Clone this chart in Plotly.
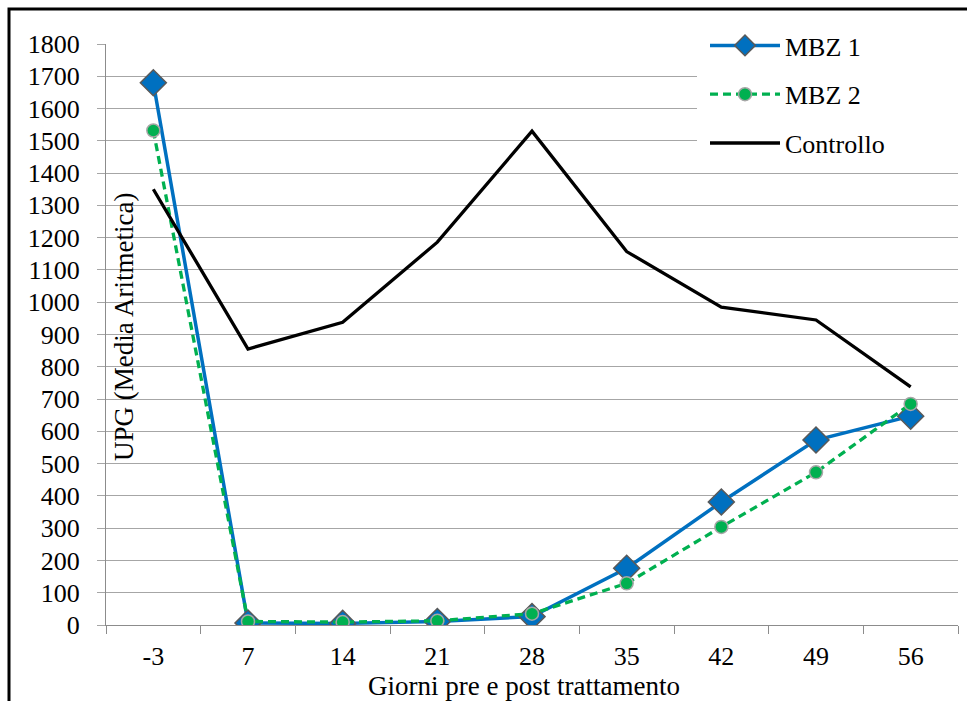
import plotly.graph_objects as go

# Days before/after treatment and arithmetic-mean UPG per group
giorni = ["-3", "7", "14", "21", "28", "35", "42", "49", "56"]
mbz1 = [1680, 6, 5, 11, 26, 176, 381, 573, 647]
mbz2 = [1532, 11, 9, 13, 35, 129, 304, 473, 685]
controllo = [1350, 855, 938, 1186, 1530, 1157, 985, 945, 738]

W, H = 967, 701
L, R, T, B = 106, 9, 44, 76
PW, PH = W - L - R, H - T - B


def px_x(p):
    return (p - L) / PW


def px_y(p):
    return (H - B - p) / PH


FONT = "Liberation Serif"
GRID = "#a6a6a6"
TICK_SIZE = 26

fig = go.Figure()
fig.add_trace(go.Scatter(
    x=giorni, y=mbz1, name="MBZ 1", mode="lines+markers", legendgroup="a",
    line=dict(color="#0070c0", width=3.5),
    marker=dict(symbol="diamond", size=20, color="#0070c0",
                line=dict(color="#595959", width=1.5)),
))
fig.add_trace(go.Scatter(
    x=giorni, y=mbz2, name="MBZ 2", mode="lines+markers", legendgroup="b",
    line=dict(color="#00b050", width=3.3, dash="8px,5px"),
    marker=dict(symbol="circle", size=13, color="#00b050",
                line=dict(color="#a6a6a6", width=1.5)),
))
fig.add_trace(go.Scatter(
    x=giorni, y=controllo, name="Controllo", mode="lines", legendgroup="c",
    line=dict(color="#000000", width=3.3),
))

fig.update_layout(
    width=W, height=H,
    margin=dict(l=L, r=R, t=T, b=B),
    paper_bgcolor="white", plot_bgcolor="white",
    font=dict(family=FONT, size=TICK_SIZE, color="black"),
    showlegend=True,
    legend=dict(
        x=px_x(705), xanchor="left", y=px_y(22), yanchor="top",
        bgcolor="white", borderwidth=0, tracegroupgap=12,
        font=dict(family=FONT, size=TICK_SIZE, color="black"),
        itemwidth=70,
    ),
    xaxis=dict(
        type="category", range=[-0.5, 8.5], tickson="boundaries",
        ticks="outside", ticklen=8, tickcolor="#8c8c8c", tickwidth=1.3,
        showline=True, linecolor="#8c8c8c", linewidth=1.3,
        showgrid=False, zeroline=False, ticklabelstandoff=8,
        tickfont=dict(family=FONT, size=TICK_SIZE, color="black"),
    ),
    yaxis=dict(
        range=[0, 1800], dtick=100, tick0=0,
        showgrid=True, gridcolor=GRID, gridwidth=1.3,
        ticks="outside", ticklen=8, tickcolor=GRID, tickwidth=1.3,
        showline=True, linecolor="#8c8c8c", linewidth=1.3,
        zeroline=False, ticklabelstandoff=12,
        tickfont=dict(family=FONT, size=TICK_SIZE, color="black"),
    ),
    annotations=[
        dict(text="UPG (Media Aritmetica)", textangle=-90,
             xref="paper", yref="paper", x=px_x(124), y=px_y(327),
             xanchor="center", yanchor="middle", showarrow=False,
             font=dict(family=FONT, size=27, color="black")),
        dict(text="Giorni pre e post trattamento",
             xref="paper", yref="paper", x=px_x(524), y=px_y(686),
             xanchor="center", yanchor="middle", showarrow=False,
             font=dict(family=FONT, size=27, color="black")),
    ],
    shapes=[
        # white panel behind the legend, hiding the gridlines there
        dict(type="rect", xref="paper", yref="paper",
             x0=px_x(697), x1=px_x(960), y0=px_y(20), y1=px_y(171),
             line=dict(width=0), fillcolor="white", layer="above"),
        # outer frame
        dict(type="rect", xref="paper", yref="paper",
             x0=px_x(9), x1=px_x(W + 20), y0=px_y(9), y1=px_y(H + 20),
             line=dict(color="black", width=3), fillcolor="rgba(0,0,0,0)",
             layer="above"),
    ],
)

fig.write_html("out.html")
